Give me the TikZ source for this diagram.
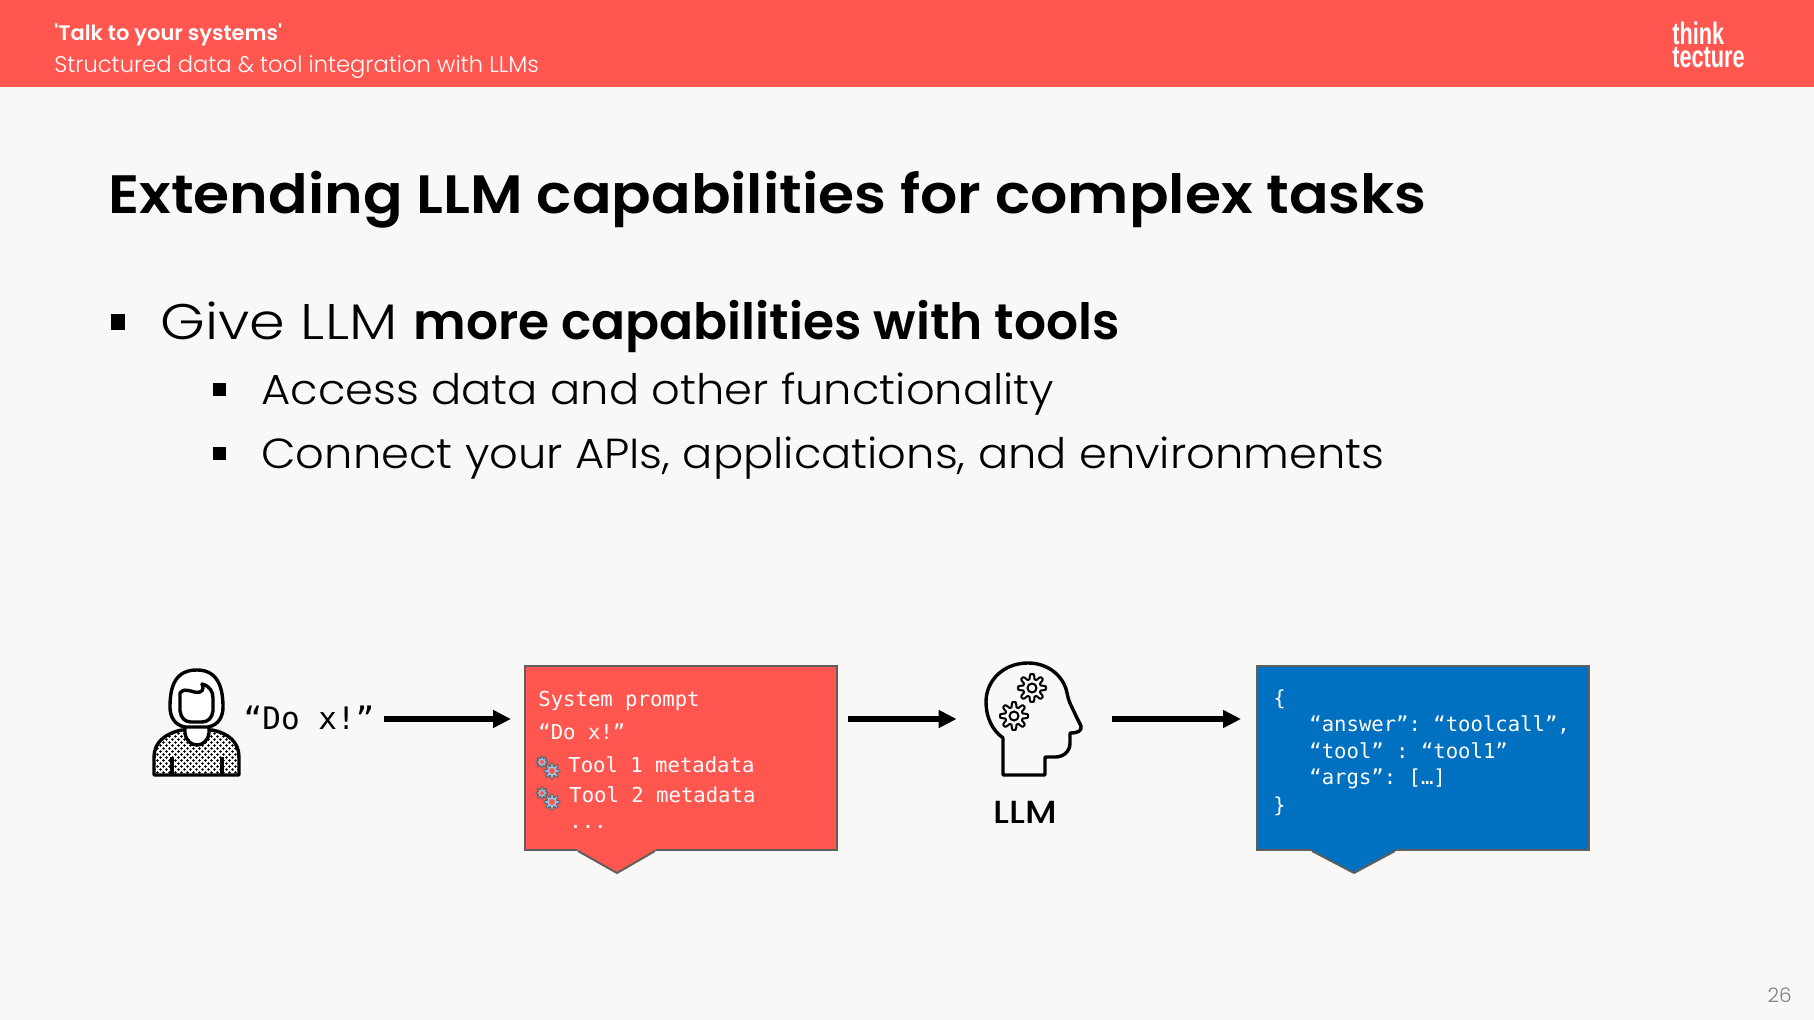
\documentclass[tikz,border=0pt]{standalone}
\usepackage{fontspec}
\usepackage{xcolor}
\usetikzlibrary{shapes,arrows.meta,positioning,patterns}
\setmainfont{Poppins Light}[BoldFont={Poppins SemiBold}]
\setmonofont{DejaVu Sans Mono}
\newfontfamily\logofont{Liberation Sans}
\newfontfamily\mediumfont{Poppins Medium}
\newfontfamily\talkfont{Poppins SemiBold}
\definecolor{ttred}{HTML}{FF5650}
\definecolor{ttblue}{HTML}{0070C0}
\definecolor{ttpaper}{HTML}{F9F8F6}
\definecolor{ttedge}{HTML}{5F5F5F}
\definecolor{ttgear}{HTML}{9DC3E6}
% gear outline: x, y, radius
\newcommand{\gearpath}[3]{plot[domain=0:360, samples=145] ({#1+#3*(0.82+0.18*max(-1,min(1,1.6*cos(8*\x)))*1)*cos(\x)}, {#2+#3*(0.82+0.18*max(-1,min(1,1.6*cos(8*\x)))*1)*sin(\x)}) -- cycle}
\pgfdeclarepatternformonly{shirtdots}{\pgfqpoint{-1pt}{-1pt}}{\pgfqpoint{4pt}{4pt}}{\pgfqpoint{3pt}{3pt}}{
  \pgfpathcircle{\pgfqpoint{0.75pt}{0.75pt}}{0.72pt}
  \pgfpathcircle{\pgfqpoint{2.25pt}{2.25pt}}{0.72pt}
  \pgfusepath{fill}}

\begin{document}
\begin{tikzpicture}[x=0.5pt, y=-0.5pt,
  callout/.style={rectangle, draw=ttedge, line width=1pt, minimum height=92pt, inner sep=0pt},
  code/.style={anchor=base west, inner sep=0pt, text=white, font=\ttfamily\fontsize{10.3}{12}\selectfont},
  bullet/.style={anchor=base west, inner sep=0pt, xscale=1.067, transform shape, font=\fontsize{21}{24}\selectfont},
  mark box/.style={fill=black},
  tail/.style={draw=ttedge, line width=1pt},
  line/.style={draw, -{Triangle[length=9pt, width=8.5pt]}, line width=3pt},
  icon/.style={draw=black, line width=1.7pt, line join=round}]

  % Page
  \fill[ttpaper] (0,0) rectangle (1814,1020);
  \fill[ttred] (0,0) rectangle (1814,87);
  \useasboundingbox (0,0) rectangle (1814,1020);

  % Header
  \node[anchor=base west, inner sep=0pt, text=white, font=\talkfont\fontsize{10.5}{12}\selectfont] (talk) at (54,41) {'Talk to your systems'};
  \node[anchor=base west, inner sep=0pt, text=white, font=\fontsize{11.3}{12}\selectfont] (subtitle) at (54,73) {Structured data \& tool integration with LLMs};
  \node[anchor=north west, inner sep=0pt, align=left, text=white, xscale=0.7, transform shape, font=\logofont\bfseries\fontsize{15.5}{11.5}\selectfont] (logo) at (1672,22) {think\\tecture};

  % Title and bullets
  \node[anchor=base west, inner sep=0pt, xscale=1.083, transform shape, font=\bfseries\fontsize{27}{30}\selectfont] (title) at (108,214) {Extending LLM capabilities for complex tasks};
  \fill[mark box] (111,314) rectangle (125,330);
  \node[anchor=base west, inner sep=0pt, xscale=1.145, transform shape, font=\fontsize{25}{28}\selectfont] (give) at (160,340) {Give LLM};
  \node[anchor=base west, inner sep=0pt, xscale=1.005, transform shape, font=\bfseries\fontsize{25}{28}\selectfont] (givebold) at (413,340) {more capabilities with tools};
  \fill[mark box] (213,383) rectangle (226,396);
  \node[bullet] (access) at (261,405) {Access data and other functionality};
  \fill[mark box] (213,447) rectangle (226,460);
  \node[bullet] (connect) at (261,469) {Connect your APIs, applications, and environments};

  % User icon
  \draw[icon, fill=white] (154,775) -- (154,757) .. controls (154,742) and (166,733) .. (182,730) -- (212,730) .. controls (228,733) and (239,742) .. (239,757) -- (239,775) -- cycle;
  \fill[pattern=shirtdots] (154,775) -- (154,757) .. controls (154,742) and (166,733) .. (182,730) -- (212,730) .. controls (228,733) and (239,742) .. (239,757) -- (239,775) -- cycle;
  \draw[icon] (172,757) -- (172,775) (222,757) -- (222,775);
  \draw[icon, fill=white] (185,720) -- (185,733) .. controls (187,749) and (207,749) .. (209,733) -- (209,720) -- cycle;
  \draw[icon, fill=white] (185,727) .. controls (174,725) and (170,716) .. (170,707) .. controls (170,685) and (176,670) .. (197,670) .. controls (218,670) and (223,688) .. (223,707) .. controls (223,716) and (219,725) .. (208,727) -- cycle;
  \draw[icon, fill=white] (180,693) .. controls (186,686) and (192,694) .. (200,692) .. controls (204,691) and (203,686) .. (202,684) .. controls (210,686) and (213,692) .. (213,698) -- (213,711) .. controls (212,718) and (208,722) .. (202,722) -- (191,722) .. controls (185,722) and (181,718) .. (180,711) -- cycle;
  \node[inner sep=0pt, text height=10pt, text depth=0pt, font=\ttfamily\fontsize{15.5}{18}\selectfont] (doxlabel) at (309,719) {“Do x!”};

  % Boxes
  \node[callout, minimum width=156pt, fill=ttred] (prompt) at (681,758) {};
  \fill[ttred] (576,848) -- (578,851) -- (617,873) -- (655,851) -- (657,848) -- cycle;
  \draw[tail] (578,851) -- (617,873) -- (655,851);
  \node[callout, minimum width=166pt, fill=ttblue, right=209pt of prompt] (result) {};
  \fill[ttblue] (1310,848) -- (1312,851) -- (1354,873) -- (1395,851) -- (1397,848) -- cycle;
  \draw[tail] (1312,851) -- (1354,873) -- (1395,851);

  % Prompt text
  \node[code] (sysline) at (538,706) {System prompt};
  \node[code] (doline) at (538,740) {“Do x!”};
  \node[code] (toolone) at (568,772) {Tool 1 metadata};
  \node[code] (tooltwo) at (569,802) {Tool 2 metadata};
  \node[code] (dots) at (569,828) {...};
  \foreach \gy in {771,802} {
    \draw[ttedge, fill=ttgear, line width=0.5pt] \gearpath{552}{\gy}{8};
    \fill[ttred] (552,\gy) circle (3);
    \draw[ttedge, fill=ttgear, line width=0.5pt] \gearpath{542}{\gy-9}{6};
    \fill[ttred] (542,\gy-9) circle (2);
  }

  % Result text
  \node[code] (openbrace) at (1273,705) {\{};
  \node[code] (answerline) at (1309,731) {“answer”: “toolcall”,};
  \node[code] (toolline) at (1309,758) {“tool” : “tool1”};
  \node[code] (argsline) at (1309,784) {“args”: […]};
  \node[code] (closebrace) at (1273,812) {\}};

  % LLM icon
  \node[minimum width=47.5pt, minimum height=56pt, inner sep=0pt] (llm) at (1033.5,719) {};
  \draw[icon] (1003,775) -- (1003,738) .. controls (992,730) and (986,717) .. (986,702) .. controls (986,680) and (1004,663) .. (1028,663) .. controls (1049,663) and (1064,677) .. (1067,693) .. controls (1069,703) and (1072,707) .. (1076,716) -- (1081,726) .. controls (1082,731) and (1078,733) .. (1070,733) -- (1070,743) .. controls (1070,752) and (1063,757) .. (1055,757) -- (1045,757) -- (1045,775) -- cycle;
  \foreach \gx/\gy in {1032/688, 1014/716} {
    \draw[black, line width=1pt, line join=round] \gearpath{\gx}{\gy}{14};
    \draw[black, line width=1pt] (\gx,\gy) circle (4.5);
  }
  \node[inner sep=0pt, below=24pt of llm.south, anchor=base, xshift=-4pt, xscale=1.12, transform shape, font=\mediumfont\fontsize{16}{18}\selectfont] (llmlabel) {LLM};

  % Edges
  \path [line, shorten <=4.5pt, shorten >=6.5pt] (doxlabel.east) -- (prompt.west |- doxlabel);
  \path [line, shorten <=5pt, shorten >=14.5pt] (prompt.east |- llm) -- (llm.west);
  \path [line, shorten <=15.5pt, shorten >=7.5pt] (llm.east) -- (result.west |- llm);

  % Page number
  \node[anchor=base east, inner sep=0pt, text=gray, font=\fontsize{10}{12}\selectfont] (pagenum) at (1792,1002) {26};
\end{tikzpicture}
\end{document}
